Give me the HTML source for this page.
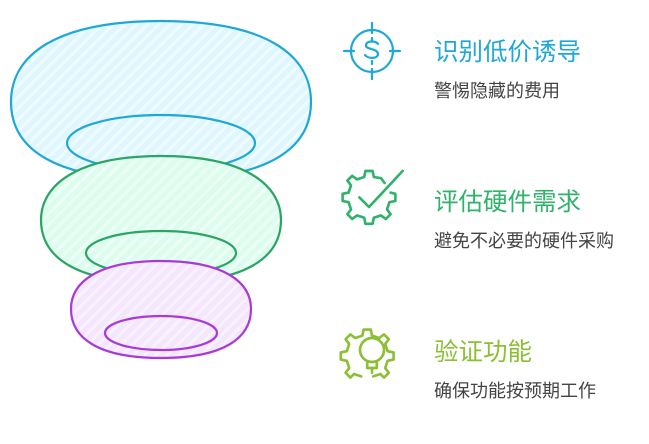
<!DOCTYPE html>
<html><head><meta charset="utf-8"><style>
body{margin:0;background:#fff;width:649px;height:444px;overflow:hidden}
svg{display:block}
</style></head><body>
<svg width="649" height="444" viewBox="0 0 649 444" xmlns="http://www.w3.org/2000/svg">
<defs>
<pattern id="hb" width="8" height="8" patternUnits="userSpaceOnUse" patternTransform="rotate(-45)">
<rect width="8" height="8" fill="#e0f6fe"/><rect width="8" height="3" fill="#eefbff"/></pattern>
<pattern id="hg" width="8" height="8" patternUnits="userSpaceOnUse" patternTransform="rotate(-45)">
<rect width="8" height="8" fill="#dcfcee"/><rect width="8" height="3" fill="#ecfef6"/></pattern>
<pattern id="hp" width="8" height="8" patternUnits="userSpaceOnUse" patternTransform="rotate(-45)">
<rect width="8" height="8" fill="#f3e6fd"/><rect width="8" height="3" fill="#f9f1fe"/></pattern>
</defs>
<g stroke-width="2.2">
<path d="M161 21C266 21 311 55 311 102C311 150 266 180 161 180C56 180 11 150 11 102C11 55 56 21 161 21Z" fill="url(#hb)" stroke="#1ea8d8"/>
<ellipse cx="161" cy="143" rx="94" ry="28" fill="none" stroke="#1ea8d8"/>
<path d="M161 156C245 156 281 185 281 220C281 258 245 283 161 283C77 283 41 258 41 220C41 185 77 156 161 156Z" fill="url(#hg)" stroke="#2ba564"/>
<ellipse cx="161" cy="253" rx="75" ry="22" fill="none" stroke="#2ba564"/>
<path d="M161 261C224 261 251 282 251 309C251 338 224 358 161 358C98 358 71 338 71 309C71 282 98 261 161 261Z" fill="url(#hp)" stroke="#a93ad8"/>
<ellipse cx="161" cy="333" rx="56" ry="17" fill="none" stroke="#a93ad8"/>
</g>
<g fill="none" stroke="#1ea8d8" stroke-width="2.2" stroke-linecap="round">
<circle cx="372" cy="51" r="21"/>
<path d="M372 23v10M372 69v10M344 51h10M390 51h10"/>
<path d="M378 44c-2-3-11-4-12 1c-1 5 12 3 12 9c0 5-10 5-13 1M372 38v3M372 61v3"/>
</g>
<g fill="none" stroke="#2fb26a" stroke-width="2.2" stroke-linecap="round" stroke-linejoin="round" transform="translate(369 201) scale(1.2) translate(-369 -201)">
<path d="M382 186l-3-4l-6-1l-1-5h-6l-1 5l-6 2l-4-3l-4 4l3 4l-2 6l-5 1v6l5 1l2 6l-3 4l4 4l4-3l6 2l1 5h6l1-5l6-2l4 3l4-4l-3-4l2-6l5-1v-6l-4-1"/>
<path d="M361 198l8 8l28-30"/>
</g>
<g fill="none" stroke="#8bc034" stroke-width="2.2" stroke-linecap="round" stroke-linejoin="round" transform="translate(372 350) scale(1.2) translate(-372 -350)">
<path d="M363 372l-6-2l-3 3l-4-4l3-4l-2-6l-5-1v-6l5-1l2-6l-3-4l4-4l4 3l6-2l1-5h6l1 5l6 2l4-3l4 4l-3 4l2 6l5 1v6l-5 1l-2 6l3 4l-4 4l-3-3l-6 2"/>
<circle cx="372" cy="350" r="10"/>
<path d="M368 360v5h8v-5M372 365v4"/>
</g>
<g font-family="Liberation Sans, Noto Sans CJK SC, sans-serif">
<text x="434" y="60" font-size="24.5" fill="#1ea8d8">识别低价诱导</text>
<text x="434" y="97" font-size="18" fill="#444">警惕隐藏的费用</text>
<text x="434" y="210" font-size="24.5" fill="#2fb26a">评估硬件需求</text>
<text x="434" y="247" font-size="18" fill="#444">避免不必要的硬件采购</text>
<text x="434" y="360" font-size="24.5" fill="#8bc034">验证功能</text>
<text x="434" y="397" font-size="18" fill="#444">确保功能按预期工作</text>
</g>
</svg>
</body></html>
